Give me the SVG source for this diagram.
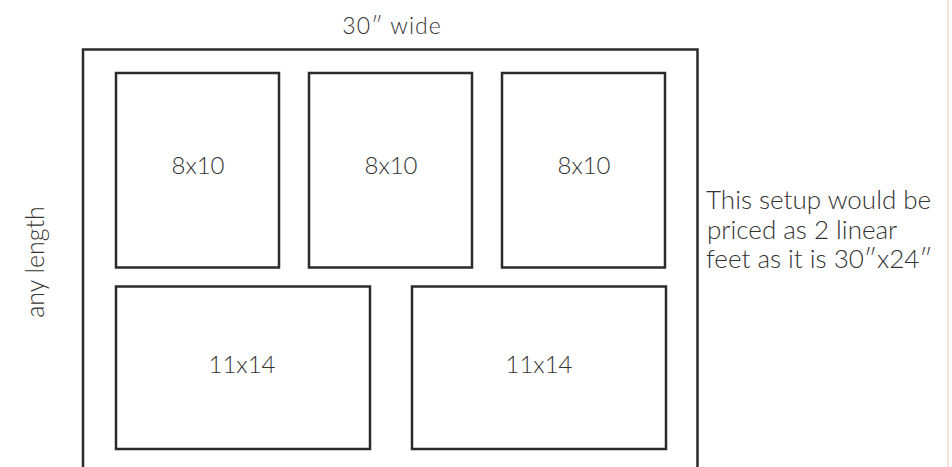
<svg xmlns="http://www.w3.org/2000/svg" width="952" height="467" viewBox="0 0 952 467">
<style>
.frame{fill:none;stroke:#2b2b2b;stroke-width:2.5}
.box{fill:#fff;stroke:#2b2b2b;stroke-width:2.5}
.t{font-family:Lato,"Noto Sans",sans-serif;font-weight:300;fill:#333}
.lbl{text-anchor:middle;font-size:24px}
.note{font-size:26px}
</style>
<rect width="952" height="467" fill="#fff"/>
<line x1="948" y1="0" x2="948" y2="467" stroke="#fbe3df" stroke-width="2"/>
<g id="frame">
<path class="frame" d="M83,467 V49.5 H697.5 V467"/>
</g>
<text class="t" x="392" y="34" text-anchor="middle" font-size="23" letter-spacing="1">30″ wide</text>
<text class="t" transform="translate(44,262) rotate(-90)" text-anchor="middle" font-size="25">any length</text>
<g id="photo1"><rect class="box" x="116" y="73" width="163" height="194.5"/><text class="t lbl" x="198" y="174">8x10</text></g>
<g id="photo2"><rect class="box" x="309" y="73" width="163" height="194.5"/><text class="t lbl" x="391" y="174">8x10</text></g>
<g id="photo3"><rect class="box" x="502" y="73" width="163" height="194.5"/><text class="t lbl" x="584" y="174">8x10</text></g>
<g id="photo4"><rect class="box" x="116" y="286.5" width="254" height="162.5"/><text class="t lbl" x="242" y="373">11x14</text></g>
<g id="photo5"><rect class="box" x="412" y="286.5" width="254" height="162.5"/><text class="t lbl" x="539" y="373">11x14</text></g>
<g id="note">
<text class="t note" x="706" y="209">This setup would be</text>
<text class="t note" x="707" y="238.5">priced as 2 linear</text>
<text class="t note" x="706" y="268">feet as it is 30″x24″</text>
</g>
<g id="connectors"/>
</svg>
